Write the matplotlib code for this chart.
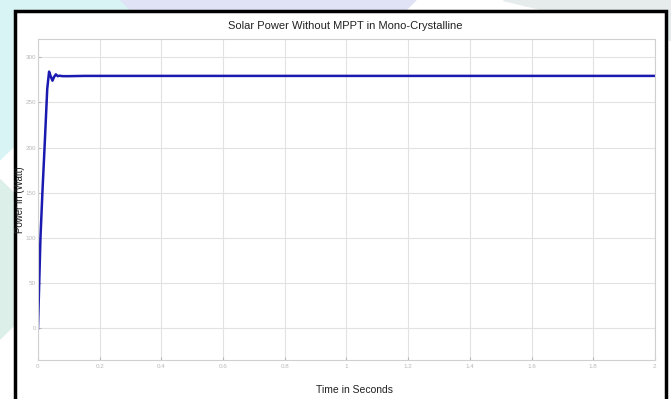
import numpy as np
import matplotlib.pyplot as plt
from matplotlib.patches import Rectangle, Polygon

# Solar power response (time in s, power in W)
time_s = [0.0, 0.008, 0.015, 0.022, 0.030, 0.036, 0.041, 0.047, 0.052, 0.058,
          0.064, 0.070, 0.080, 0.100, 0.150, 0.300, 0.600, 1.000, 1.500, 2.000]
power_w = [0.0, 100.0, 155.0, 205.0, 265.0, 284.0, 279.0, 274.0, 278.0, 281.0,
           279.0, 279.5, 279.0, 279.0, 279.3, 279.3, 279.3, 279.3, 279.3, 279.3]

x_ticks = [0, 0.2, 0.4, 0.6, 0.8, 1, 1.2, 1.4, 1.6, 1.8, 2]
x_tick_labels = ['0', '0.2', '0.4', '0.6', '0.8', '1', '1.2', '1.4', '1.6', '1.8', '2']
y_ticks = [0, 50, 100, 150, 200, 250, 300]

fig = plt.figure(figsize=(6.71, 3.99), dpi=100)
fig.patch.set_facecolor('white')

# faint watermark shapes behind the frame
fig.patches.append(Polygon([[0, 1], [0.25, 1], [0.0, 0.6]], closed=True,
                           transform=fig.transFigure, color='#d8f4f4', zorder=0))
fig.patches.append(Polygon([[0.18, 1], [0.62, 1], [0.5, 0.8], [0.3, 0.8]], closed=True,
                           transform=fig.transFigure, color='#dfe3f5', zorder=0))
fig.patches.append(Polygon([[0.75, 1], [1, 1], [1, 0.9]], closed=True,
                           transform=fig.transFigure, color='#e6ecec', zorder=0))
fig.patches.append(Polygon([[0, 0.55], [0.03, 0.5], [0.03, 0.2], [0, 0.15]], closed=True,
                           transform=fig.transFigure, color='#dcefe8', zorder=0))

# white panel with black border
fig.patches.append(Rectangle((0.0225, -0.01), 0.9695, 0.982, transform=fig.transFigure,
                             facecolor='white', edgecolor='black', linewidth=2.5, zorder=1))

ax = fig.add_axes([0.0566, 0.0977, 0.9194, 0.8043])
ax.set_zorder(2)
ax.plot(time_s, power_w, color='#1a1ab0', linewidth=1.8)

ax.set_xlim(0, 2)
ax.set_ylim(-35, 320)
ax.set_xticks(x_ticks)
ax.set_xticklabels(x_tick_labels)
ax.set_yticks(y_ticks)
ax.grid(True, color='#e2e2e2', linewidth=0.8)
ax.tick_params(axis='both', labelsize=4.5, colors='#b8b8b8', length=2, direction='in')
ax.tick_params(axis='y', pad=1.5)
ax.tick_params(axis='x', pad=3)
for lbl in ax.get_xticklabels() + ax.get_yticklabels():
    lbl.set_fontfamily('Liberation Sans')
for spine in ax.spines.values():
    spine.set_color('#d0d0d0')
    spine.set_linewidth(0.8)

fig.text(0.514, 0.935, 'Solar Power Without MPPT in Mono-Crystalline', ha='center', va='center',
         fontsize=8, family='Liberation Sans', color='#222222')
fig.text(0.529, 0.022, 'Time in Seconds', ha='center', va='center',
         fontsize=7.5, family='Liberation Sans', color='#222222')
fig.text(0.0305, 0.5, 'Power in (Watt)', ha='center', va='center', rotation=90,
         fontsize=7, family='Liberation Sans', color='#222222')

fig.savefig('out.png', dpi=100)
